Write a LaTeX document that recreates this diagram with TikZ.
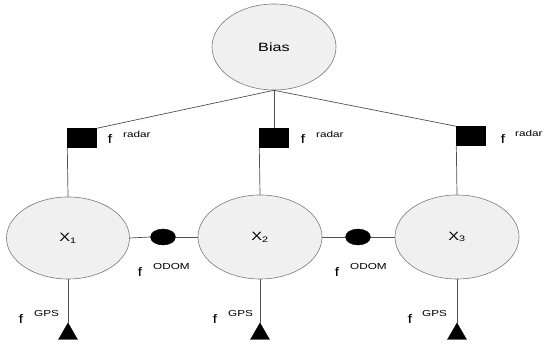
\documentclass[tikz,border=0pt]{standalone}
\usepackage{fontspec}
\setmainfont{Liberation Sans}[FakeStretch=1.35]
\usetikzlibrary{shapes.geometric}
\definecolor{nodefill}{HTML}{F0F0F0}
\definecolor{nodeline}{HTML}{7A7A7A}
\definecolor{wire}{HTML}{505050}
\tikzset{
  var/.style={ellipse, draw=nodeline, fill=nodefill, line width=0.6pt, inner sep=0pt, font=\fontsize{12}{14}\selectfont},
  sqfactor/.style={rectangle, fill=black, draw=black, minimum width=29pt, minimum height=19pt, inner sep=0pt},
  odfactor/.style={ellipse, fill=black, draw=black, minimum width=25pt, minimum height=16pt, inner sep=0pt},
  gpsfactor/.style={regular polygon, regular polygon sides=3, fill=black, draw=black, minimum size=22pt, inner sep=0pt},
  wireline/.style={draw=wire, line width=0.7pt},
  flabel/.style={inner sep=0pt, font=\fontsize{12.5}{14}\selectfont},
  sublabel/.style={inner sep=0pt, anchor=west, font=\fontsize{8.7}{10}\selectfont},
}
\begin{document}
\begin{tikzpicture}[x=1pt,y=1pt]
\useasboundingbox (0,0) rectangle (543,345);
% variables
\node[var, minimum width=124pt, minimum height=86pt] (bias) at (274,298) {Bias};
\node[var, minimum width=123pt, minimum height=82pt] (x1) at (68,107) {X\textsubscript{1}};
\node[var, minimum width=124pt, minimum height=84pt] (x2) at (260,108) {X\textsubscript{2}};
\node[var, minimum width=124pt, minimum height=84pt] (x3) at (457,108) {X\textsubscript{3}};
% radar factors
\node[sqfactor] (r1) at (82,207) {};
\node[sqfactor] (r2) at (274,207) {};
\node[sqfactor] (r3) at (471,209) {};
% odom factors
\node[odfactor] (o1) at (163,108) {};
\node[odfactor] (o2) at (358,108) {};
% gps factors
\node[gpsfactor] (g1) at (68,11) {};
\node[gpsfactor] (g2) at (260,11) {};
\node[gpsfactor] (g3) at (457,11) {};
% connectors
\draw[wireline] (bias.south) -- (r1.north east);
\draw[wireline] (bias.south) -- (r2.north);
\draw[wireline] (bias.south) -- (r3.north west);
\draw[wireline] (r1.south west) -- (x1.north);
\draw[wireline] (r2.south west) -- (x2.north);
\draw[wireline] (r3.south west) -- (x3.north);
\draw[wireline] (x1.east) -- (o1.west);
\draw[wireline] (o1.east) -- (x2.west);
\draw[wireline] (x2.east) -- (o2.west);
\draw[wireline] (o2.east) -- (x3.west);
\draw[wireline] (x1.south) -- (g1.north);
\draw[wireline] (x2.south) -- (g2.north);
\draw[wireline] (x3.south) -- (g3.north);
% labels
\node[flabel] (fr1) at (110,206) {f};
\node[sublabel] (lr1) at (123,211) {radar};
\node[flabel] (fr2) at (303,206) {f};
\node[sublabel] (lr2) at (316,211) {radar};
\node[flabel] (fr3) at (503,206) {f};
\node[sublabel] (lr3) at (515,212) {radar};
\node[flabel] (fo1) at (140,73) {f};
\node[sublabel] (lo1) at (153,78) {ODOM};
\node[flabel] (fo2) at (337,73) {f};
\node[sublabel] (lo2) at (350,78) {ODOM};
\node[flabel] (fg1) at (21,26) {f};
\node[sublabel] (lg1) at (34,31) {GPS};
\node[flabel] (fg2) at (215,26) {f};
\node[sublabel] (lg2) at (228,31) {GPS};
\node[flabel] (fg3) at (410,26) {f};
\node[sublabel] (lg3) at (422,31) {GPS};
\end{tikzpicture}
\end{document}
